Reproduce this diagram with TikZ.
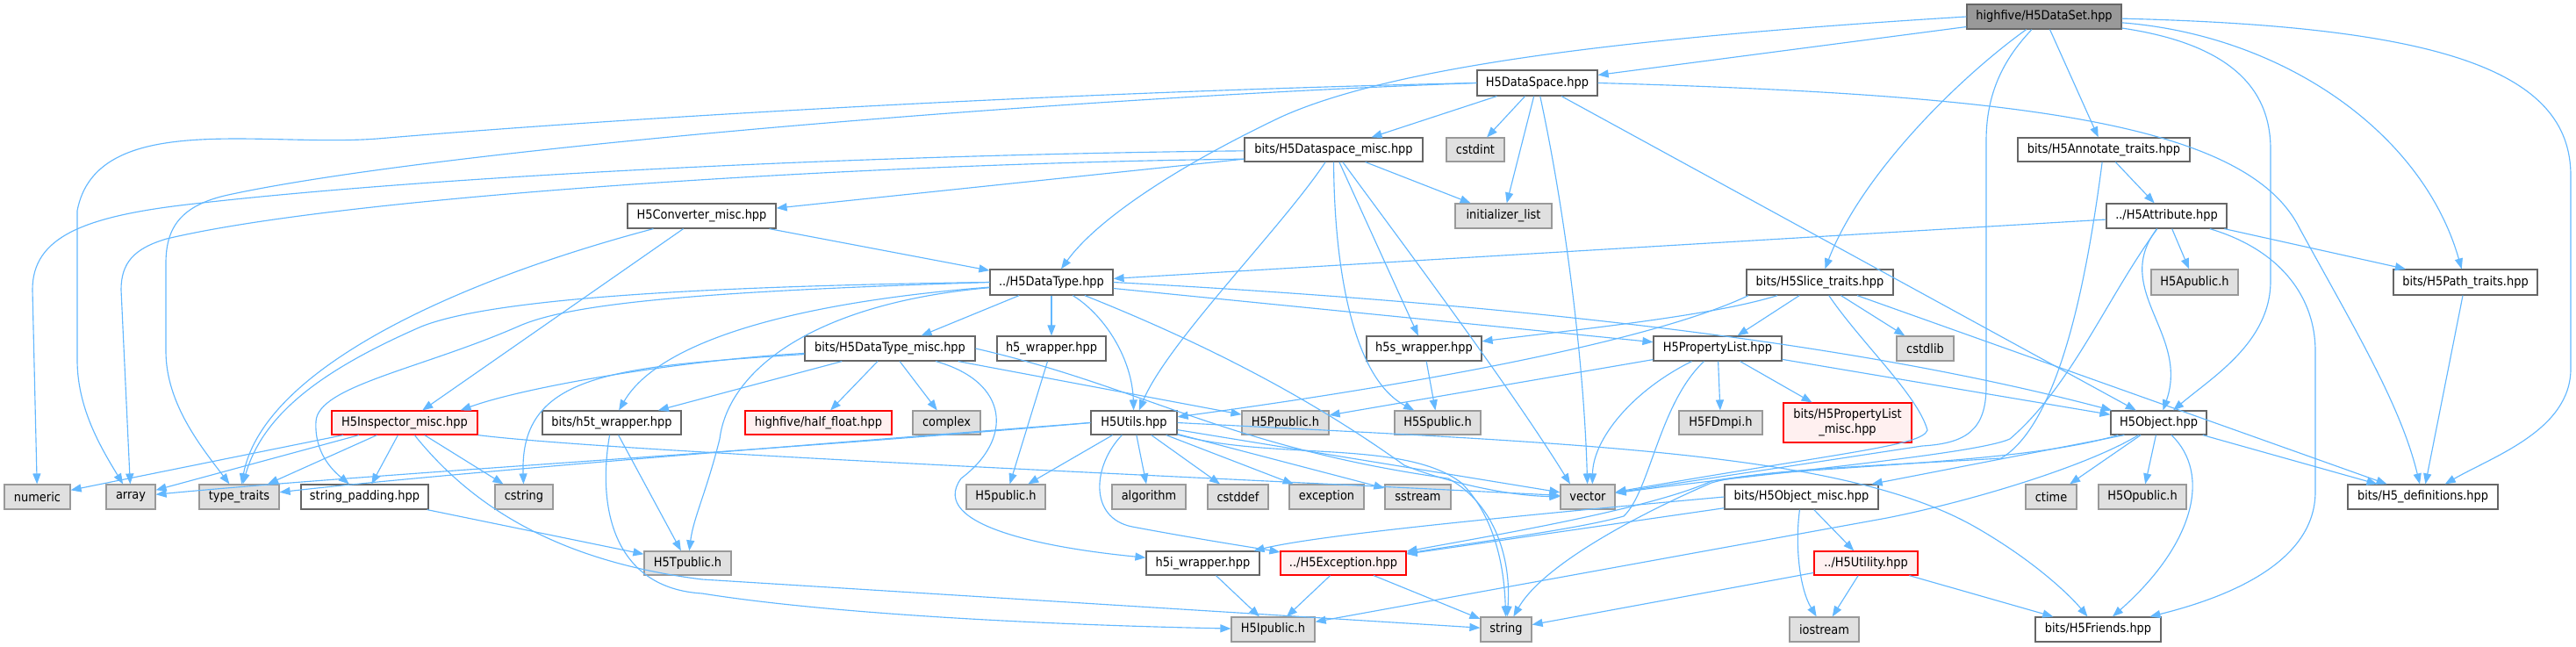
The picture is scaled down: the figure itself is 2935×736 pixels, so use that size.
\documentclass[tikz,border=0pt]{standalone}
\usepackage{fontspec}
\setmainfont{DejaVu Sans Condensed}
\usetikzlibrary{arrows.meta}
\definecolor{edgec}{HTML}{63B8FF}
\definecolor{bdk}{HTML}{666666}
\definecolor{bdg}{HTML}{999999}
\definecolor{fillg}{HTML}{E0E0E0}
\definecolor{fillr}{HTML}{FFF0F0}
\definecolor{bdr}{HTML}{FF0000}
\newcommand\nd[7]{\node[#2, minimum width={(#4-#3)*0.75pt}, minimum height={(#6-#5)*0.75pt}] (#1) at ({(#3+#4)/2},{(#5+#6)/2}) {#7};}
\begin{document}
\begin{tikzpicture}[x=0.75pt,y=-0.75pt,
  nbox/.style={draw, line width=0.9pt, inner sep=0pt, font=\fontsize{10.8}{12.5}\selectfont, text=black},
  wbox/.style={nbox, draw=bdk, fill=white},
  gbox/.style={nbox, draw=bdg, fill=fillg},
  rbox/.style={nbox, draw=bdr, fill=fillr},
  rootbox/.style={nbox, draw=bdk, fill=bdg},
  dep/.style={draw=edgec, line width=0.85pt, -{Triangle[length=9pt,width=6.8pt]}}]
\fill[white] (0,0) rectangle (2935,736);
\useasboundingbox (0,0) rectangle (2935,736);
% nodes
\nd{DS}{rootbox}{2241}{2417}{5}{33}{highfive/H5DataSet.hpp}
\nd{Sp}{wbox}{1683}{1820}{80}{109}{H5DataSpace.hpp}
\nd{Dm}{wbox}{1418}{1621}{157}{184}{bits/H5Dataspace\_misc.hpp}
\nd{cstdint}{gbox}{1648}{1714}{157}{184}{cstdint}
\nd{An}{wbox}{2299}{2495}{157}{184}{bits/H5Annotate\_traits.hpp}
\nd{Cv}{wbox}{715}{884}{232}{260}{H5Converter\_misc.hpp}
\nd{initl}{gbox}{1658}{1768}{232}{260}{initializer\_list}
\nd{Attr}{wbox}{2400}{2537}{232}{260}{../H5Attribute.hpp}
\nd{DT}{wbox}{1128}{1268}{307}{336}{../H5DataType.hpp}
\nd{Sl}{wbox}{1990}{2157}{307}{336}{bits/H5Slice\_traits.hpp}
\nd{Apub}{gbox}{2451}{2550}{307}{336}{H5Apublic.h}
\nd{Pa}{wbox}{2727}{2891}{307}{336}{bits/H5Path\_traits.hpp}
\nd{DTm}{wbox}{917}{1111}{383}{411}{bits/H5DataType\_misc.hpp}
\nd{h5w}{wbox}{1136}{1260}{383}{411}{h5\_wrapper.hpp}
\nd{h5s}{wbox}{1557}{1688}{383}{411}{h5s\_wrapper.hpp}
\nd{PL}{wbox}{1884}{2030}{383}{411}{H5PropertyList.hpp}
\nd{cstdlib}{gbox}{2161}{2226}{383}{411}{cstdlib}
\nd{Insp}{rbox}{378}{544}{468}{495}{H5Inspector\_misc.hpp}
\nd{h5t}{wbox}{618}{776}{468}{495}{bits/h5t\_wrapper.hpp}
\nd{half}{rbox}{849}{1016}{468}{495}{highfive/half\_float.hpp}
\nd{complex}{gbox}{1040}{1117}{468}{495}{complex}
\nd{Utils}{wbox}{1243}{1341}{468}{495}{H5Utils.hpp}
\nd{Ppub}{gbox}{1415}{1514}{468}{495}{H5Ppublic.h}
\nd{Spub}{gbox}{1589}{1687}{468}{495}{H5Spublic.h}
\nd{FDmpi}{gbox}{1913}{2008}{468}{495}{H5FDmpi.h}
\nd{PLm}{rbox,align=center}{2032}{2178}{459}{504}{bits/H5PropertyList\\\_misc.hpp}
\nd{Ob}{wbox}{2405}{2514}{468}{495}{H5Object.hpp}
\nd{numeric}{gbox}{5}{80}{552}{580}{numeric}
\nd{array}{gbox}{121}{177}{552}{580}{array}
\nd{tt}{gbox}{227}{318}{552}{580}{type\_traits}
\nd{sp}{wbox}{343}{488}{552}{580}{string\_padding.hpp}
\nd{cstring}{gbox}{564}{630}{552}{580}{cstring}
\nd{H5pub}{gbox}{1101}{1191}{552}{580}{H5public.h}
\nd{algorithm}{gbox}{1267}{1351}{552}{580}{algorithm}
\nd{cstddef}{gbox}{1376}{1445}{552}{580}{cstddef}
\nd{exception}{gbox}{1469}{1554}{552}{580}{exception}
\nd{sstream}{gbox}{1578}{1653}{552}{580}{sstream}
\nd{vector}{gbox}{1778}{1840}{552}{580}{vector}
\nd{Om}{wbox}{1965}{2140}{552}{580}{bits/H5Object\_misc.hpp}
\nd{ctime}{gbox}{2308}{2366}{552}{580}{ctime}
\nd{Opub}{gbox}{2391}{2491}{552}{580}{H5Opublic.h}
\nd{Def}{wbox}{2675}{2846}{552}{580}{bits/H5\_definitions.hpp}
\nd{Tpub}{gbox}{734}{833}{628}{655}{H5Tpublic.h}
\nd{h5i}{wbox}{1306}{1435}{628}{655}{h5i\_wrapper.hpp}
\nd{Exc}{rbox}{1459}{1602}{628}{655}{../H5Exception.hpp}
\nd{Util}{rbox}{2067}{2185}{628}{655}{../H5Utility.hpp}
\nd{Ipub}{gbox}{1403}{1498}{703}{731}{H5Ipublic.h}
\nd{string}{gbox}{1687}{1745}{703}{731}{string}
\nd{iostream}{gbox}{2039}{2118}{703}{731}{iostream}
\nd{Fr}{wbox}{2319}{2462}{703}{731}{bits/H5Friends.hpp}
% H5DataSet
\draw[dep] (DS) -- (Sp);
\draw[dep] (DS.west) .. controls (1900,40) and (1600,70) .. (1460,133) .. controls (1340,190) and (1250,250) .. (DT);
\draw[dep] (DS) .. controls (2230,90) and (2120,200) .. (Sl);
\draw[dep] (DS) .. controls (2280,70) and (2263,110) .. (2263,160) -- (2263,440) .. controls (2263,490) and (2240,505) .. (2190,508) -- (vector);
\draw[dep] (DS) -- (An);
\draw[dep] (DS) .. controls (2540,50) and (2587,100) .. (2587,170) -- (2587,320) .. controls (2587,390) and (2520,430) .. (Ob);
\draw[dep] (DS) .. controls (2600,40) and (2760,150) .. (Pa);
\draw[dep] (DS) .. controls (2780,30) and (2929,80) .. (2929,200) -- (2929,420) .. controls (2929,490) and (2840,520) .. (Def);
% H5DataSpace
\draw[dep] (Sp.west) .. controls (1200,105) and (700,135) .. (430,158) .. controls (300,168) and (110,125) .. (88,240) -- (88,410) .. controls (88,465) and (115,510) .. (array);
\draw[dep] (Sp.west) .. controls (1200,112) and (500,170) .. (260,222) .. controls (205,234) and (189,260) .. (189,300) -- (189,400) .. controls (189,460) and (230,510) .. (tt);
\draw[dep] (Sp) -- (Dm);
\draw[dep] (Sp) -- (cstdint);
\draw[dep] (Sp) -- (initl);
\draw[dep] (Sp) .. controls (1785,250) and (1805,420) .. (vector);
\draw[dep] (Sp) -- (Ob);
\draw[dep] (Sp.east) .. controls (2300,108) and (2560,140) .. (2620,260) .. controls (2680,370) and (2735,460) .. (Def);
% Dataspace_misc
\draw[dep] ([yshift=-1pt]Dm.west) .. controls (1000,176) and (500,200) .. (222,232) .. controls (95,246) and (37,270) .. (37,330) -- (numeric);
\draw[dep] ([yshift=-8pt]Dm.west) .. controls (1000,186) and (400,222) .. (190,272) .. controls (152,283) and (138,300) .. (138,330) -- (array);
\draw[dep] (Dm) -- (Cv);
\draw[dep] (Dm) .. controls (1460,260) and (1330,390) .. (Utils);
\draw[dep] (Dm) .. controls (1520,300) and (1540,430) .. (Spub);
\draw[dep] (Dm) -- (h5s);
\draw[dep] (Dm) .. controls (1600,280) and (1720,440) .. ([xshift=-15pt]vector.north);
\draw[dep] (Dm) -- (initl);
% Converter
\draw[dep] (Cv) -- (DT);
\draw[dep] (Cv) -- (Insp);
\draw[dep] (Cv) .. controls (520,320) and (300,420) .. (tt);
% DataType
\draw[dep] (DT.west) .. controls (800,326) and (560,340) .. (480,372) .. controls (370,420) and (300,470) .. (tt);
\draw[dep] (DT.west) .. controls (800,332) and (650,345) .. (590,372) .. controls (480,420) and (362,440) .. (360,480) .. controls (358,515) and (378,535) .. (sp);
\draw[dep] (DT) .. controls (900,345) and (750,390) .. (h5t);
\draw[dep] (DT) .. controls (930,345) and (830,420) .. (820,500) .. controls (805,560) and (790,590) .. (Tpub);
\draw[dep] (DT) -- (DTm);
\draw[dep] (DT) -- (h5w);
\draw[dep] (DT) .. controls (1260,360) and (1290,410) .. (Utils);
\draw[dep] (DT) .. controls (1420,410) and (1530,480) .. (1600,530) .. controls (1650,550) and (1720,565) .. (vector);
\draw[dep] (DT) -- (PL);
\draw[dep] (DT.east) .. controls (1800,350) and (2150,400) .. (Ob);
% DataType_misc
\draw[dep] (DTm) .. controls (780,410) and (600,440) .. ([xshift=-15pt]Insp.north east);
\draw[dep] (DTm) .. controls (700,418) and (592,425) .. (cstring);
\draw[dep] (DTm) -- (h5t);
\draw[dep] (DTm) -- (half);
\draw[dep] (DTm) -- (complex);
\draw[dep] (DTm) .. controls (1150,435) and (1155,500) .. (1095,545) .. controls (1055,600) and (1200,625) .. (h5i);
\draw[dep] (DTm) -- (Ppub);
\draw[dep] (DTm.east) .. controls (1300,440) and (1400,510) .. (1650,545) .. controls (1705,575) and (1722,640) .. (string);
% wrappers
\draw[dep] (h5w) -- (H5pub);
\draw[dep] (h5s) -- (Spub);
\draw[dep] (h5t) -- (Tpub);
\draw[dep] (h5t) .. controls (680,580) and (700,670) .. (800,676) .. controls (950,700) and (1200,712) .. (Ipub);
\draw[dep] (sp) -- (Tpub);
\draw[dep] (h5i) -- (Ipub);
% H5Utils
\draw[dep] (Utils.west) .. controls (900,512) and (420,540) .. (array);
\draw[dep] (Utils.west) .. controls (900,508) and (500,540) .. (tt);
\draw[dep] (Utils) -- (H5pub);
\draw[dep] (Utils) .. controls (1245,530) and (1240,590) .. (1290,600) .. controls (1370,615) and (1430,624) .. (Exc);
\draw[dep] (Utils) -- (algorithm);
\draw[dep] (Utils) -- (cstddef);
\draw[dep] (Utils) -- (exception);
\draw[dep] (Utils) -- (sstream);
\draw[dep] (Utils) -- (vector);
\draw[dep] (Utils) .. controls (1450,525) and (1600,500) .. (1665,550) .. controls (1705,590) and (1714,650) .. (string);
\draw[dep] (Utils.east) .. controls (1800,505) and (2100,515) .. (2250,600) .. controls (2320,640) and (2360,680) .. (Fr);
% Inspector
\draw[dep] (Insp) -- (numeric);
\draw[dep] (Insp) -- (array);
\draw[dep] (Insp) -- (tt);
\draw[dep] (Insp) -- (sp);
\draw[dep] (Insp) -- (cstring);
\draw[dep] (Insp) .. controls (540,580) and (640,640) .. (800,660) -- (string);
\draw[dep] (Insp.south east) .. controls (700,515) and (1400,545) .. (vector);
% PropertyList
\draw[dep] (PL) -- (Ppub);
\draw[dep] (PL) .. controls (1860,445) and (1815,500) .. ([xshift=4pt]vector.north);
\draw[dep] (PL) .. controls (1890,460) and (1880,560) .. (1850,588) .. controls (1800,602) and (1700,615) .. (Exc);
\draw[dep] (PL) -- (FDmpi);
\draw[dep] (PL) -- (PLm);
\draw[dep] (PL) -- (Ob);
% Slice traits
\draw[dep] ([xshift=2pt]Sl.south west) .. controls (1880,390) and (1600,440) .. (Utils);
\draw[dep] (Sl) .. controls (1950,360) and (1800,375) .. (h5s);
\draw[dep] (Sl) -- (PL);
\draw[dep] (Sl) .. controls (2120,390) and (2185,450) .. (2196,490) .. controls (2190,508) and (2100,515) .. (vector);
\draw[dep] (Sl) -- (cstdlib);
\draw[dep] (Sl) -- (Def);
% Attribute
\draw[dep] (Attr) -- (DT);
\draw[dep] (Attr) .. controls (2400,340) and (2360,440) .. (2290,500) .. controls (2250,518) and (2000,540) .. (vector);
\draw[dep] (Attr) .. controls (2405,330) and (2495,380) .. (Ob);
\draw[dep] (Attr) -- (Apub);
\draw[dep] (Attr) .. controls (2600,285) and (2638,340) .. (2638,400) -- (2638,560) .. controls (2638,640) and (2540,680) .. (Fr);
\draw[dep] (Attr) -- (Pa);
% Annotate traits
\draw[dep] (An) -- (Attr);
\draw[dep] (An) .. controls (2380,300) and (2350,480) .. (2280,522) .. controls (2150,530) and (2000,535) .. (1950,550) .. controls (1880,580) and (1760,640) .. (string);
\draw[dep] (Pa) -- (Def);
% H5Object
\draw[dep] (Ob) .. controls (2300,530) and (2050,530) .. (1950,548) .. controls (1880,580) and (1700,610) .. (Exc);
\draw[dep] ([xshift=12pt]Ob.south west) -- ([xshift=-6pt]Om.north east);
\draw[dep] (Ob) .. controls (2380,530) and (2250,570) .. (2150,590) -- (Ipub);
\draw[dep] (Ob) -- (ctime);
\draw[dep] (Ob) -- (Opub);
\draw[dep] (Ob) .. controls (2520,540) and (2500,620) .. (Fr);
\draw[dep] (Ob) -- (Def);
% Object_misc
\draw[dep] (Om.west) .. controls (1700,590) and (1500,610) .. (h5i);
\draw[dep] (Om) -- (Exc);
\draw[dep] (Om) .. controls (2045,620) and (2050,670) .. (iostream);
\draw[dep] (Om) -- (Util);
% Exception, Utility
\draw[dep] (Exc) -- (Ipub);
\draw[dep] (Exc) -- (string);
\draw[dep] (Util) -- (string);
\draw[dep] (Util) -- (iostream);
\draw[dep] (Util) -- (Fr);
\end{tikzpicture}
\end{document}
